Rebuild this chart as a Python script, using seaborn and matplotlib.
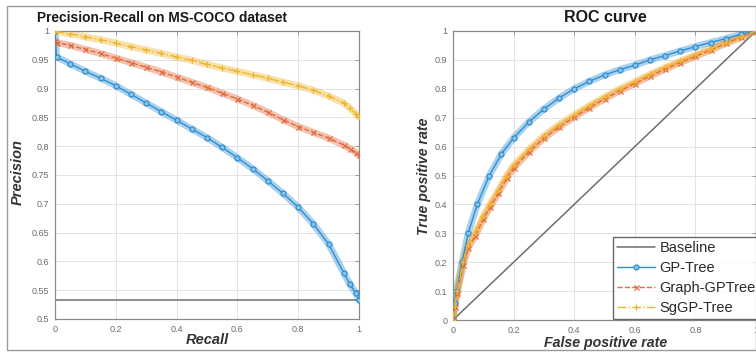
import numpy as np
import pandas as pd
import matplotlib
matplotlib.use('Agg')
import matplotlib.pyplot as plt
import seaborn as sns
from matplotlib.patches import Rectangle

sns.set_style('white')
plt.rcParams['font.family'] = ['Liberation Sans', 'DejaVu Sans']

# ---- Precision-Recall data ----
recall = [0, 0.005, 0.05, 0.1, 0.15, 0.2, 0.25, 0.3, 0.35, 0.4, 0.45, 0.5,
          0.55, 0.6, 0.65, 0.7, 0.75, 0.8, 0.85, 0.9, 0.95, 0.97, 0.99, 1.0]
prec_gp = [1.0, 0.955, 0.943, 0.93, 0.918, 0.905, 0.89, 0.875, 0.86, 0.845, 0.83, 0.815,
           0.798, 0.78, 0.761, 0.74, 0.718, 0.694, 0.665, 0.63, 0.58, 0.56, 0.545, 0.533]
prec_graph = [0.982, 0.98, 0.975, 0.968, 0.961, 0.953, 0.945, 0.937, 0.929, 0.92, 0.911, 0.902,
              0.892, 0.882, 0.871, 0.859, 0.846, 0.834, 0.824, 0.814, 0.802, 0.796, 0.789, 0.785]
prec_sg = [1.0, 0.999, 0.995, 0.99, 0.985, 0.979, 0.973, 0.967, 0.961, 0.955, 0.949, 0.942,
           0.936, 0.93, 0.924, 0.918, 0.911, 0.905, 0.897, 0.887, 0.875, 0.866, 0.856, 0.85]
pr_baseline = 0.533

# ---- ROC data ----
fpr_gp = [0, 0.005, 0.012, 0.03, 0.05, 0.08, 0.12, 0.16, 0.2, 0.25, 0.3, 0.35, 0.4,
          0.45, 0.5, 0.55, 0.6, 0.65, 0.7, 0.75, 0.8, 0.85, 0.9, 0.95, 1.0]
tpr_gp = [0, 0.06, 0.1, 0.2, 0.3, 0.4, 0.5, 0.575, 0.63, 0.685, 0.73, 0.768, 0.8,
          0.826, 0.848, 0.866, 0.882, 0.9, 0.915, 0.931, 0.946, 0.96, 0.974, 0.988, 1.0]
fpr_sg = [0, 0.005, 0.014, 0.033, 0.05, 0.073, 0.1, 0.122, 0.15, 0.177, 0.2, 0.25, 0.3,
          0.35, 0.4, 0.45, 0.5, 0.55, 0.6, 0.65, 0.7, 0.75, 0.8, 0.85, 0.9, 0.95, 1.0]
tpr_sg = [0, 0.05, 0.1, 0.2, 0.26, 0.3, 0.36, 0.4, 0.45, 0.5, 0.535, 0.59, 0.638,
          0.676, 0.71, 0.742, 0.772, 0.8, 0.825, 0.85, 0.874, 0.896, 0.917, 0.938, 0.96, 0.98, 1.0]
tpr_graph = [0, 0.045, 0.093, 0.19, 0.25, 0.29, 0.35, 0.39, 0.44, 0.49, 0.526, 0.581, 0.629,
             0.668, 0.702, 0.735, 0.765, 0.793, 0.818, 0.844, 0.868, 0.891, 0.912, 0.934, 0.957, 0.978, 1.0]
roc_baseline = [0, 1]

names = ['Baseline', 'GP-Tree', 'Graph-GPTree', 'SgGP-Tree']
colors = {'Baseline': '#6e6e6e', 'GP-Tree': '#2f8fd2',
          'Graph-GPTree': '#e2693a', 'SgGP-Tree': '#efb52c'}
styles = {'GP-Tree': dict(linestyle='-', marker='o', markersize=3.6, mfc='#8fc2e8', mew=0.9),
          'Graph-GPTree': dict(linestyle='--', marker='x', markersize=3.6, mew=0.9),
          'SgGP-Tree': dict(linestyle='-.', marker='+', markersize=4.2, mew=0.9)}


def draw(ax, x, y, name):
    # soft wide band underneath, like the dense markers in the source figure
    ax.plot(x, y, color=colors[name], lw=5, alpha=0.4, solid_capstyle='round', zorder=2)
    sns.lineplot(x=x, y=y, ax=ax, color=colors[name], lw=1.0, sort=False,
                 estimator=None, label=name, zorder=3, mec=colors[name], **styles[name])


def style_axes(ax):
    ax.grid(True, color='#e3e3e3', lw=0.7)
    for s in ax.spines.values():
        s.set_color('#8a8a8a')
        s.set_linewidth(0.9)
    ax.tick_params(direction='in', length=3, width=0.6, color='#8a8a8a',
                   labelsize=6.5, labelcolor='#6a6a6a', top=True, right=True, pad=4)


fig = plt.figure(figsize=(7.56, 3.52), dpi=100)
W, H = 756, 352

# ---- left: precision-recall ----
ax1 = fig.add_axes([55 / W, 1 - 319 / H, 304 / W, 288 / H])
ax1.plot([0, 1], [pr_baseline, pr_baseline], color=colors['Baseline'], lw=1.1, zorder=2)
draw(ax1, recall, prec_gp, 'GP-Tree')
draw(ax1, recall, prec_graph, 'Graph-GPTree')
draw(ax1, recall, prec_sg, 'SgGP-Tree')
ax1.set_xlim(0, 1)
ax1.set_ylim(0.5, 1)
ax1.set_xticks([0, 0.2, 0.4, 0.6, 0.8, 1])
ax1.set_xticklabels(['0', '0.2', '0.4', '0.6', '0.8', '1'])
ax1.set_yticks(np.round(np.arange(0.5, 1.001, 0.05), 2))
ax1.set_yticklabels(['0.5', '0.55', '0.6', '0.65', '0.7', '0.75', '0.8', '0.85', '0.9', '0.95', '1'])
style_axes(ax1)
ax1.legend_.remove()
ax1.set_xlabel('')
ax1.set_ylabel('')
fig.text(37 / W, 1 - 18 / H, 'Precision-Recall on MS-COCO dataset', fontsize=9.9,
         fontweight='bold', ha='left', va='center', color='#1a1a1a')
fig.text(207 / W, 1 - 340 / H, 'Recall', fontsize=10.5, fontweight='bold', style='italic',
         ha='center', va='center', color='#333333')
fig.text(18 / W, 1 - 172 / H, 'Precision', fontsize=10.5, fontweight='bold', style='italic',
         ha='center', va='center', rotation=90, color='#333333')

# ---- right: ROC ----
ax2 = fig.add_axes([453 / W, 1 - 320 / H, 303 / W, 289 / H])
sns.lineplot(x=roc_baseline, y=roc_baseline, ax=ax2, color=colors['Baseline'], lw=1.1,
             label='Baseline', zorder=2)
draw(ax2, fpr_gp, tpr_gp, 'GP-Tree')
draw(ax2, fpr_sg, tpr_graph, 'Graph-GPTree')
draw(ax2, fpr_sg, tpr_sg, 'SgGP-Tree')
ax2.set_xlim(0, 1)
ax2.set_ylim(0, 1)
ax2.set_xticks([0, 0.2, 0.4, 0.6, 0.8, 1])
ax2.set_xticklabels(['0', '0.2', '0.4', '0.6', '0.8', '1'])
ax2.set_yticks(np.round(np.arange(0, 1.001, 0.1), 1))
ax2.set_yticklabels(['0', '0.1', '0.2', '0.3', '0.4', '0.5', '0.6', '0.7', '0.8', '0.9', '1'])
style_axes(ax2)
ax2.set_xlabel('')
ax2.set_ylabel('')
handles, labels = ax2.get_legend_handles_labels()
ax2.legend_.remove()
leg = fig.legend(handles, labels, loc='lower left', bbox_to_anchor=(613 / W, 1 - 319 / H),
                 fontsize=10.5, frameon=True, fancybox=False, borderpad=0.3,
                 labelspacing=0.4, handlelength=2.6, handletextpad=0.3, borderaxespad=0)
leg.get_frame().set_edgecolor('#444444')
leg.get_frame().set_linewidth(1.0)
for t in leg.get_texts():
    t.set_color('#2a2a2a')
fig.text(605 / W, 1 - 18 / H, 'ROC curve', fontsize=11.5, fontweight='bold',
         ha='center', va='center', color='#1a1a1a')
fig.text(606 / W, 1 - 343 / H, 'False positive rate', fontsize=10.2, fontweight='bold',
         style='italic', ha='center', va='center', color='#333333')
fig.text(424 / W, 1 - 176 / H, 'True positive rate', fontsize=10.2, fontweight='bold',
         style='italic', ha='center', va='center', rotation=90, color='#333333')

# outer frame of the screenshot
fig.patches.append(Rectangle((7 / W, 1 - 350 / H), 749 / W, 344 / H, transform=fig.transFigure,
                             fill=False, edgecolor='#9a9a9a', lw=1.0))

fig.savefig('out.png', dpi=100)
